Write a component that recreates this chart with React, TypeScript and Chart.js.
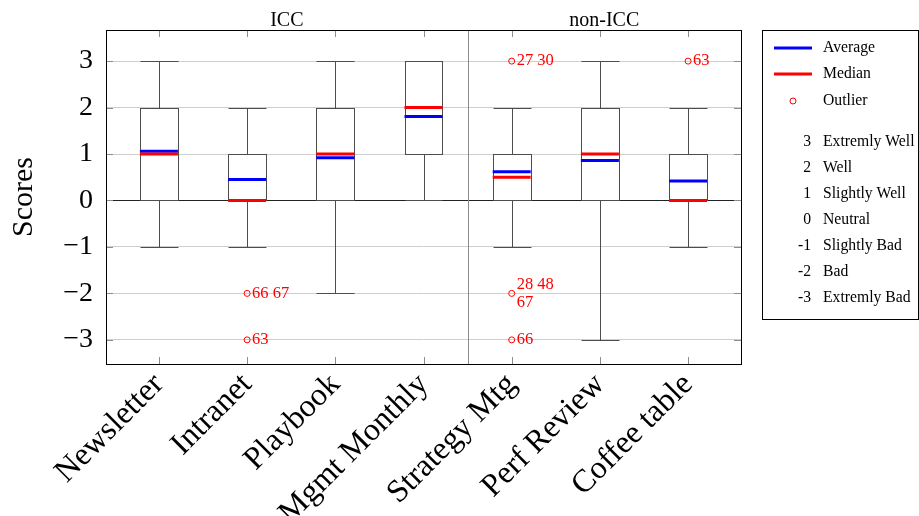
import React, { useEffect, useRef } from 'react';
import { Chart, registerables } from 'chart.js';

Chart.register(...registerables);

const categories = ['Newsletter', 'Intranet', 'Playbook', 'Mgmt Monthly', 'Strategy Mtg', 'Perf Review', 'Coffee table'];
const whiskerLow = [-1, -1, -2, 0, -1, -3, -1];
const quartile1 = [0, 0, 0, 1, 0, 0, 0];
const quartile3 = [2, 1, 2, 3, 1, 2, 1];
const whiskerHigh = [3, 2, 3, 3, 2, 3, 2];
const medians = [1, 0, 1, 2, 0.5, 1, 0];
const averages = [1.06, 0.45, 0.92, 1.81, 0.62, 0.86, 0.42];

const outlierCategory = [1, 1, 4, 4, 4, 6];
const outlierValues = [-2, -3, 3, -2, -3, 3];
const outlierLabels = [['66 67'], ['63'], ['27 30'], ['28 48', '67'], ['66'], ['63']];

const groupNames = ['ICC', 'non-ICC'];
const groupDivider = 3.5;
const xMin = -0.6;
const xMax = 6.6;
const yMin = -3.52;
const yMax = 3.67;

const scoreTicks = [-3, -2, -1, 0, 1, 2, 3];
const scoreLegendValues = ['3', '2', '1', '0', '-1', '-2', '-3'];
const scoreLegendNames = ['Extremly Well', 'Well', 'Slightly Well', 'Neutral', 'Slightly Bad', 'Bad', 'Extremly Bad'];

const SERIF = "'Liberation Serif', 'Times New Roman', serif";
const BOX_HALF = 0.215;

function seg(ctx: CanvasRenderingContext2D, x1: number, y1: number, x2: number, y2: number) {
  ctx.beginPath();
  ctx.moveTo(x1, y1);
  ctx.lineTo(x2, y2);
  ctx.stroke();
}

const boxPlugin = {
  id: 'boxes',
  beforeDatasetsDraw(chart: any) {
    const { ctx, chartArea: a } = chart;
    const x = chart.scales.x;
    const y = chart.scales.y;
    ctx.save();
    ctx.lineWidth = 1;
    const dx = Math.round(x.getPixelForValue(groupDivider)) + 0.5;
    ctx.strokeStyle = '#8c8c8c';
    seg(ctx, dx, a.top, dx, a.bottom);
    categories.forEach((_, i) => {
      const px = Math.round(x.getPixelForValue(i)) + 0.5;
      seg(ctx, px, a.top, px, a.top + 7);
      seg(ctx, px, a.bottom - 7, px, a.bottom);
    });
    scoreTicks.forEach((v) => {
      const py = Math.round(y.getPixelForValue(v)) + 0.5;
      seg(ctx, a.left, py, a.left + 7, py);
      seg(ctx, a.right - 7, py, a.right, py);
    });
    ctx.strokeStyle = '#4d4d4d';
    categories.forEach((_, i) => {
      const cx = Math.round(x.getPixelForValue(i)) + 0.5;
      const l = Math.round(x.getPixelForValue(i - BOX_HALF)) + 0.5;
      const r = Math.round(x.getPixelForValue(i + BOX_HALF)) + 0.5;
      const yl = Math.round(y.getPixelForValue(whiskerLow[i])) + 0.5;
      const y1 = Math.round(y.getPixelForValue(quartile1[i])) + 0.5;
      const y3 = Math.round(y.getPixelForValue(quartile3[i])) + 0.5;
      const yh = Math.round(y.getPixelForValue(whiskerHigh[i])) + 0.5;
      seg(ctx, cx, y1, cx, yl);
      seg(ctx, l, yl, r, yl);
      seg(ctx, cx, y3, cx, yh);
      seg(ctx, l, yh, r, yh);
      ctx.strokeRect(l, y3, r - l, y1 - y3);
    });
    ctx.restore();
  },
  afterDraw(chart: any) {
    const { ctx, chartArea: a } = chart;
    const x = chart.scales.x;
    const y = chart.scales.y;
    ctx.save();
    ctx.strokeStyle = '#000';
    ctx.lineWidth = 1;
    ctx.strokeRect(Math.round(a.left) + 0.5, Math.round(a.top) + 0.5, Math.round(a.right - a.left), Math.round(a.bottom - a.top));
    ctx.fillStyle = '#000';
    ctx.font = `20px ${SERIF}`;
    ctx.textAlign = 'center';
    ctx.textBaseline = 'alphabetic';
    const c1 = x.getPixelForValue((xMin + groupDivider) / 2);
    const c2 = x.getPixelForValue((groupDivider + xMax) / 2);
    ctx.fillText(groupNames[0], c1, 26);
    ctx.fillText(groupNames[1], c2, 26);
    ctx.fillStyle = '#ff0000';
    ctx.font = `16.5px ${SERIF}`;
    ctx.textAlign = 'left';
    ctx.textBaseline = 'middle';
    outlierLabels.forEach((lines, i) => {
      const px = x.getPixelForValue(outlierCategory[i]) + 5;
      const py = y.getPixelForValue(outlierValues[i]);
      const n = lines.length;
      lines.forEach((t, k) => {
        ctx.fillText(t, px, py + (k - (n - 1) / 2) * 18);
      });
    });
    const lx = 762.5;
    const ly = 30.5;
    ctx.strokeStyle = '#000';
    ctx.lineWidth = 1;
    ctx.fillStyle = '#fff';
    ctx.fillRect(lx, ly, 156, 289);
    ctx.strokeRect(lx, ly, 156, 289);
    ctx.font = `15.7px ${SERIF}`;
    ctx.textBaseline = 'middle';
    ctx.textAlign = 'left';
    ctx.lineWidth = 3;
    ctx.strokeStyle = '#0000ff';
    seg(ctx, 774, 48, 812, 48);
    ctx.strokeStyle = '#ff0000';
    seg(ctx, 774, 74, 812, 74);
    ctx.lineWidth = 1;
    ctx.beginPath();
    ctx.arc(793, 101, 3, 0, Math.PI * 2);
    ctx.stroke();
    ctx.fillStyle = '#000';
    ctx.fillText('Average', 823, 48);
    ctx.fillText('Median', 823, 74);
    ctx.fillText('Outlier', 823, 101);
    const rows = [142, 168, 194, 220, 246, 272, 298];
    scoreLegendValues.forEach((v, i) => {
      ctx.textAlign = 'right';
      ctx.fillText(v, 811, rows[i]);
      ctx.textAlign = 'left';
      ctx.fillText(scoreLegendNames[i], 823, rows[i]);
    });
    ctx.restore();
  },
};

export default function App() {
  const ref = useRef<HTMLCanvasElement | null>(null);
  useEffect(() => {
    if (!ref.current) return;
    const chart = new Chart(ref.current, {
      type: 'scatter',
      data: {
        datasets: [
          {
            label: 'Median',
            data: categories.map((_, i) => ({ x: i, y: medians[i] })),
            pointStyle: 'line',
            pointRadius: 19,
            pointHoverRadius: 19,
            pointBorderColor: '#ff0000',
            borderColor: '#ff0000',
            pointBorderWidth: 3,
            borderWidth: 3,
          },
          {
            label: 'Average',
            data: categories.map((_, i) => ({ x: i, y: averages[i] })),
            pointStyle: 'line',
            pointRadius: 19,
            pointHoverRadius: 19,
            pointBorderColor: '#0000ff',
            borderColor: '#0000ff',
            pointBorderWidth: 3,
            borderWidth: 3,
          },
          {
            label: 'Outlier',
            data: outlierCategory.map((c, i) => ({ x: c, y: outlierValues[i] })),
            pointStyle: 'circle',
            pointRadius: 3,
            pointHoverRadius: 3,
            pointBorderColor: '#ff0000',
            borderColor: '#ff0000',
            pointBackgroundColor: 'rgba(255,255,255,0)',
            backgroundColor: 'rgba(255,255,255,0)',
            pointBorderWidth: 1,
            borderWidth: 1,
          },
        ],
      } as any,
      options: {
        animation: false,
        responsive: false,
        layout: { padding: { top: 30, right: 178, left: 0, bottom: 0 } },
        plugins: { legend: { display: false }, tooltip: { enabled: false } },
        scales: {
          x: {
            type: 'linear',
            min: xMin,
            max: xMax,
            grid: { display: false },
            border: { display: false },
            afterBuildTicks: (s: any) => {
              s.ticks = categories.map((_, i) => ({ value: i }));
            },
            afterFit: (s: any) => {
              s.height = 152;
            },
            ticks: {
              autoSkip: false,
              minRotation: 45,
              maxRotation: 45,
              padding: -6,
              color: '#000',
              font: { family: SERIF, size: 32 },
              callback: (v: any) => categories[v as number] ?? '',
            },
          },
          y: {
            min: yMin,
            max: yMax,
            afterBuildTicks: (s: any) => {
              s.ticks = scoreTicks.map((v) => ({ value: v }));
            },
            afterFit: (s: any) => {
              s.width = 106;
            },
            border: { display: false },
            grid: {
              drawTicks: false,
              lineWidth: 1,
              color: (c: any) => (c.tick && c.tick.value === 0 ? '#222222' : '#cfcfcf'),
            },
            ticks: {
              padding: 13,
              color: '#000',
              font: { family: SERIF, size: 28 },
              callback: (v: any) => (v < 0 ? '\u2212' + Math.abs(v) : String(v)),
            },
            title: {
              display: true,
              text: 'Scores',
              color: '#000',
              font: { family: SERIF, size: 30 },
              padding: { top: 6, bottom: 0 },
            },
          },
        },
      } as any,
      plugins: [boxPlugin],
    });
    return () => chart.destroy();
  }, []);
  return (
    <div style={{ position: 'absolute', left: 0, top: 0, width: 919, height: 516 }}>
      <canvas ref={ref} width={919} height={516} style={{ display: 'block' }} />
    </div>
  );
}
